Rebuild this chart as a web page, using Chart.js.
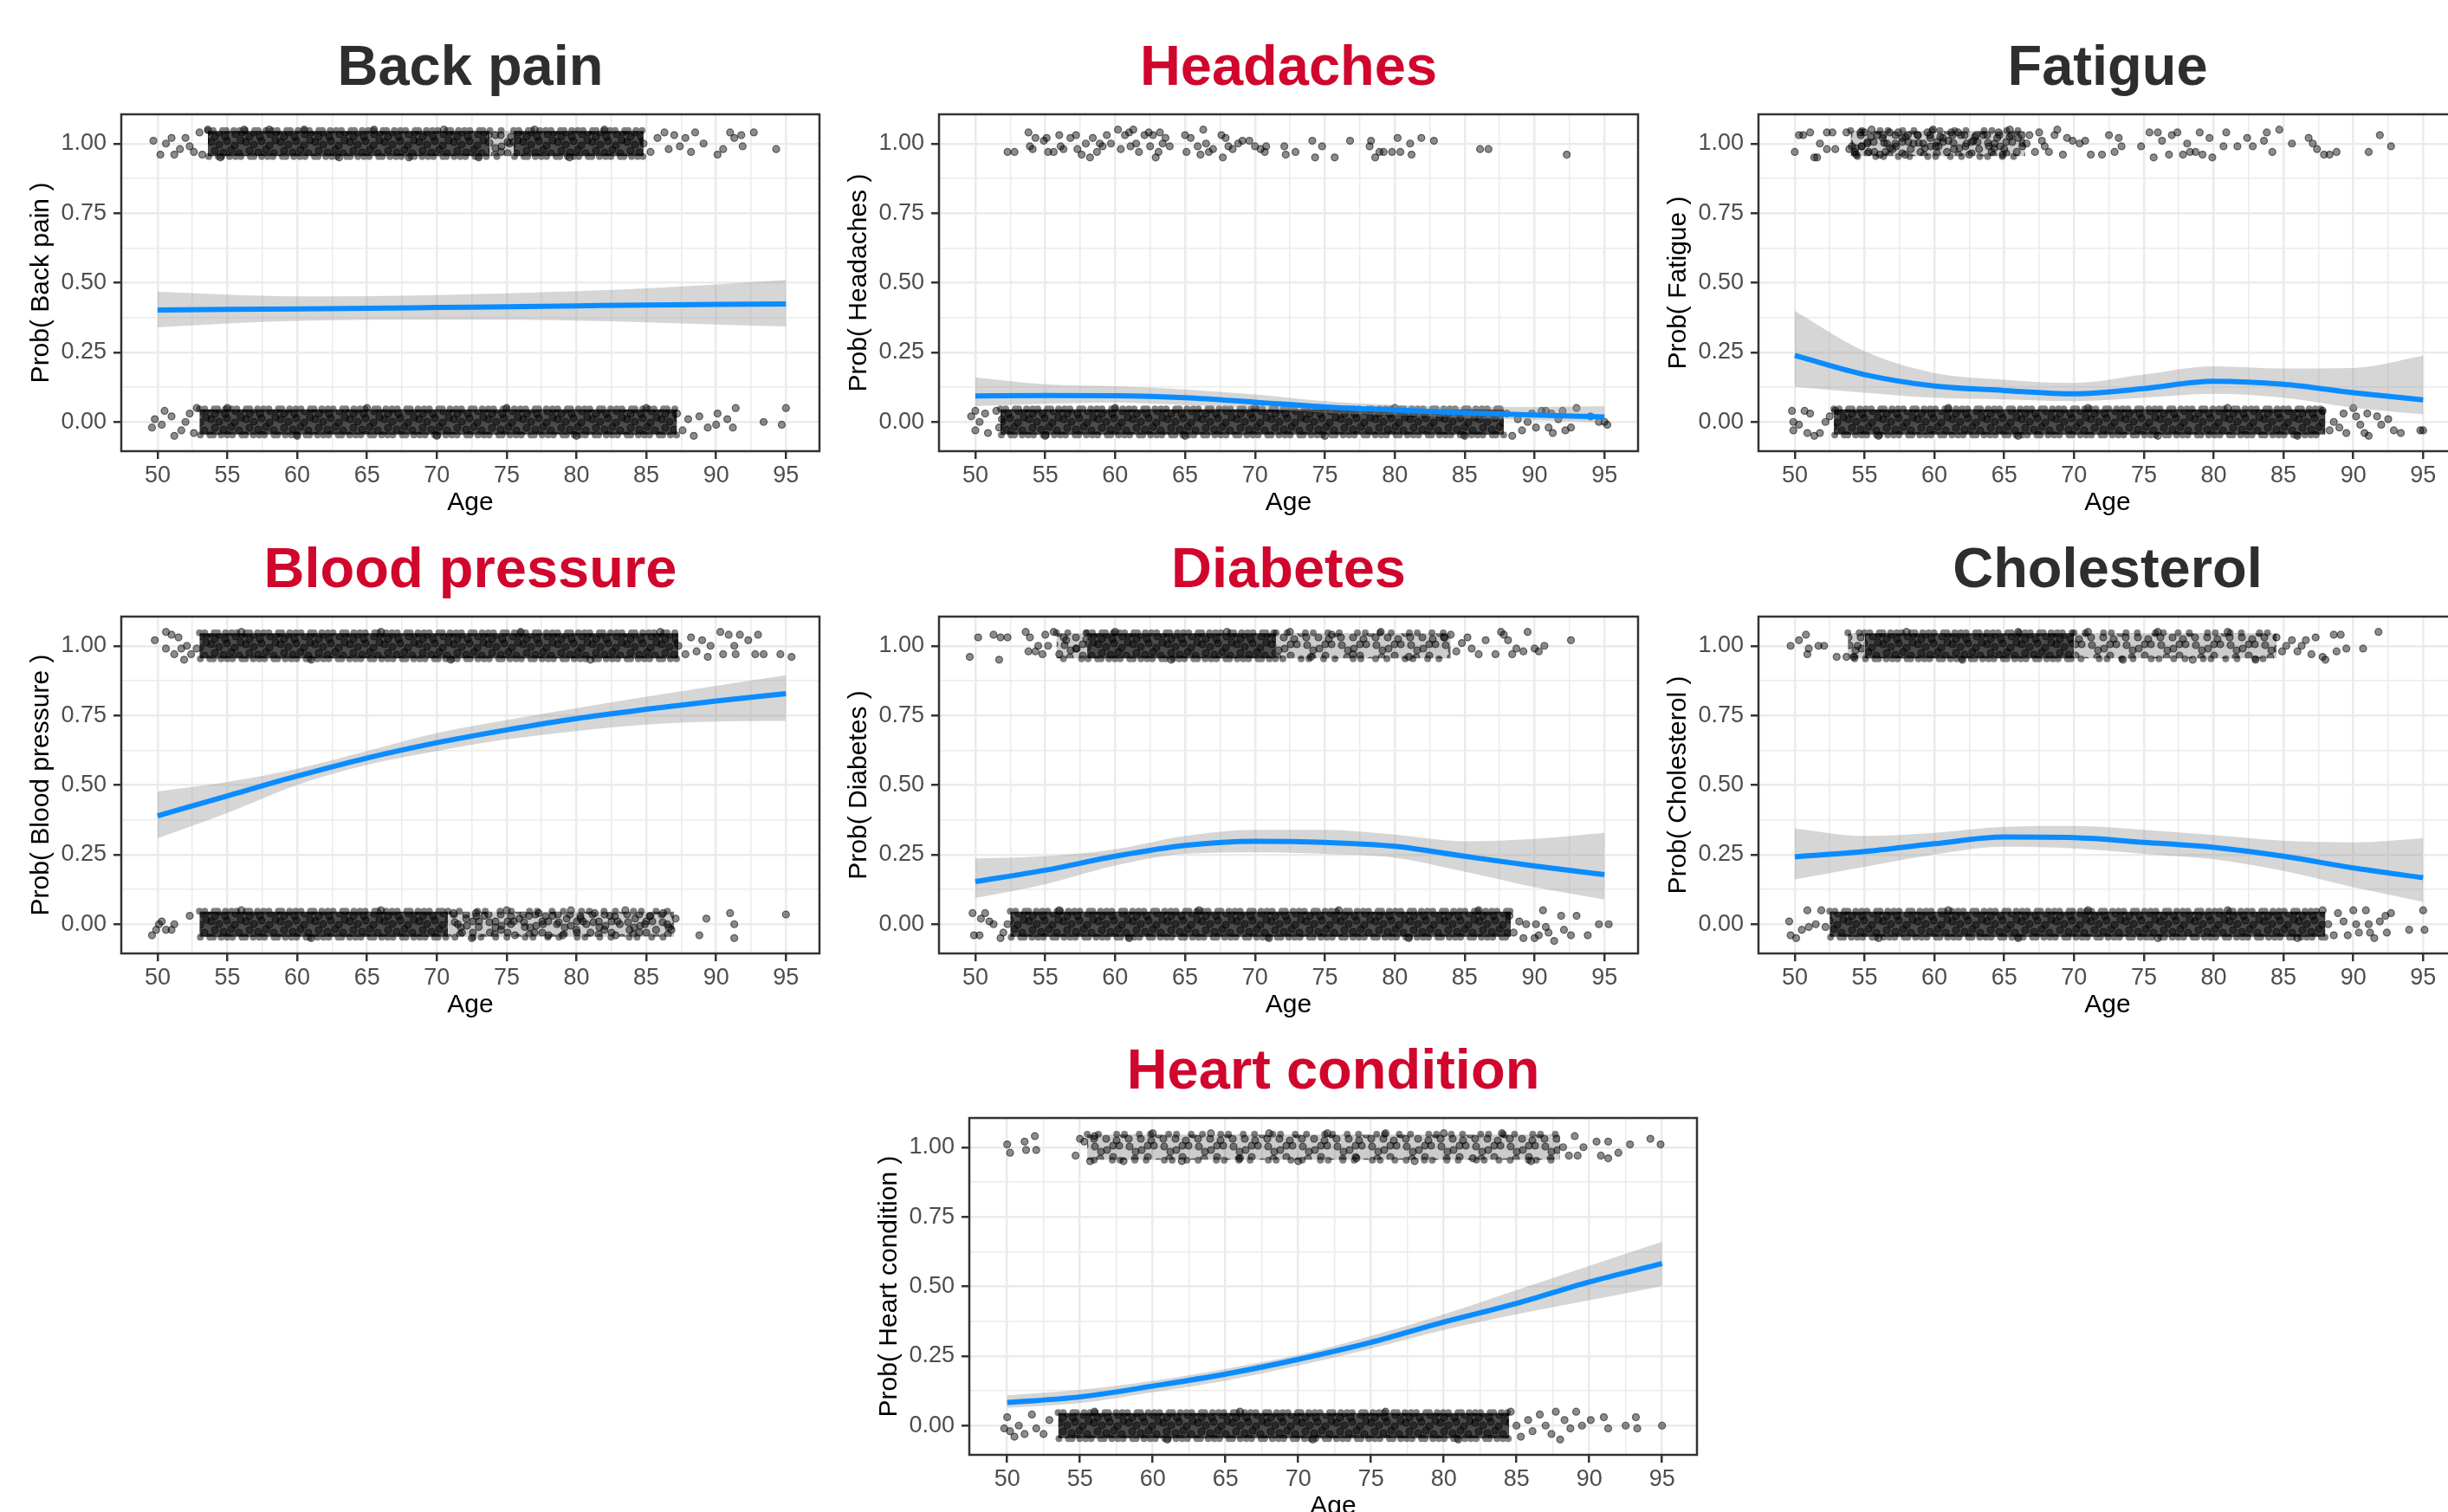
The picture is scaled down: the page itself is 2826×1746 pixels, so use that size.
<!DOCTYPE html>
<html>
<head>
<meta charset="utf-8">
<script src="https://cdn.jsdelivr.net/npm/chart.js@4.4.1/dist/chart.umd.min.js"></script>
<style>
  body { margin: 0; width: 2826px; height: 1746px; overflow: hidden; background: #fff; position: relative; }
  canvas { position: absolute; }
</style>
</head>
<body>
<canvas id="backPain"></canvas>
<canvas id="headaches"></canvas>
<canvas id="fatigue"></canvas>
<canvas id="bloodPressure"></canvas>
<canvas id="diabetes"></canvas>
<canvas id="cholesterol"></canvas>
<canvas id="heart"></canvas>
<script>
// axis breaks
const xTickValues = [50, 55, 60, 65, 70, 75, 80, 85, 90, 95];
const xTickLabels = ['50', '55', '60', '65', '70', '75', '80', '85', '90', '95'];
const xMinorTicks = [52.5, 57.5, 62.5, 67.5, 72.5, 77.5, 82.5, 87.5, 92.5];
const yTickValues = [0, 0.25, 0.5, 0.75, 1];
const yTickLabels = ['0.00', '0.25', '0.50', '0.75', '1.00'];
const yMinorTicks = [0.125, 0.375, 0.625, 0.875];

// ages at which the fitted curves were read
const fitAges = [50, 55, 60, 65, 70, 75, 80, 85, 90, 95];

// ---- Back pain ----
const backPainFit   = [0.402, 0.404, 0.406, 0.408, 0.411, 0.414, 0.417, 0.420, 0.422, 0.424];
const backPainLower = [0.340, 0.354, 0.363, 0.367, 0.367, 0.367, 0.364, 0.358, 0.350, 0.343];
const backPainUpper = [0.468, 0.457, 0.451, 0.452, 0.456, 0.462, 0.470, 0.480, 0.494, 0.510];
// age spans where the jittered points are too packed to count
const backPainYesDense = [[53.6, 73.8], [75.5, 84.8]];
const backPainYesLight = [[73.8, 75.5]];
const backPainNoDense = [[53.0, 87.2]];
const backPainNoLight = [];
const backPainYes = [[49.7,1.01],[50.2,0.96],[50.6,1.0],[51.0,1.02],[51.2,0.96],[51.6,0.98],[52.0,1.02],[52.3,0.99],[52.6,0.97],[53.0,1.04],[53.2,0.96],[53.6,1.05],[54.5,0.95],[56.2,1.05],[58.0,1.05],[60.5,1.05],[63.0,0.95],[65.5,1.05],[68.0,0.95],[70.5,1.05],[73.0,0.95],[74.2,1.03],[74.6,0.97],[75.2,1.0],[77.0,1.05],[79.5,0.95],[82.0,1.05],[84.8,1.0],[85.3,0.97],[85.8,1.02],[86.3,1.04],[86.6,0.98],[87.0,1.03],[87.4,0.99],[87.8,1.02],[88.2,0.97],[88.5,1.04],[89.1,1.0],[90.1,0.96],[90.5,0.98],[91.0,1.04],[91.3,1.02],[91.8,1.03],[91.9,0.99],[92.7,1.04],[94.3,0.98]];
const backPainNo = [[49.6,-0.02],[49.8,0.01],[50.3,-0.01],[50.5,0.04],[51.0,0.02],[51.2,-0.05],[51.7,-0.03],[52.0,0.0],[52.3,0.03],[52.6,-0.04],[52.8,0.05],[55.0,0.05],[60.0,-0.05],[65.0,0.05],[70.0,-0.05],[75.0,0.05],[80.0,-0.05],[85.0,0.05],[87.2,0.03],[87.6,-0.03],[88.0,0.01],[88.4,-0.05],[88.8,0.02],[89.4,-0.02],[90.0,-0.01],[90.1,0.03],[90.8,0.01],[91.2,-0.02],[91.4,0.05],[93.4,0.0],[94.7,-0.01],[95.0,0.05]];

// ---- Headaches ----
const headachesFit   = [0.093, 0.095, 0.094, 0.087, 0.071, 0.054, 0.043, 0.033, 0.025, 0.018];
const headachesLower = [0.057, 0.065, 0.069, 0.061, 0.049, 0.033, 0.025, 0.015, 0.006, -0.002];
const headachesUpper = [0.160, 0.135, 0.128, 0.117, 0.099, 0.075, 0.061, 0.054, 0.054, 0.057];
const headachesYesDense = [];
const headachesYesLight = [];
const headachesNoDense = [[51.8, 87.8]];
const headachesNoLight = [];
const headachesYes = [[52.3,0.97],[52.8,0.97],[53.8,1.04],[53.9,0.99],[54.1,0.98],[54.3,1.02],[54.9,1.01],[55.1,1.02],[55.2,0.97],[55.6,0.97],[56.0,1.03],[56.1,0.99],[56.3,0.98],[56.8,1.02],[57.2,1.03],[57.3,0.98],[57.6,0.96],[57.9,1.0],[58.2,0.95],[58.4,1.02],[58.7,0.97],[58.9,1.0],[59.1,0.99],[59.4,1.03],[59.7,1.0],[60.2,1.05],[60.4,0.98],[60.7,1.03],[61.0,1.04],[61.1,0.99],[61.3,1.05],[61.5,1.0],[61.7,0.97],[62.1,1.03],[62.4,1.04],[62.5,0.99],[62.7,1.03],[62.9,0.95],[63.1,0.97],[63.2,1.04],[63.4,1.0],[63.6,1.02],[63.9,0.99],[65.0,1.03],[65.1,0.97],[65.4,1.02],[65.9,0.99],[66.1,0.96],[66.3,1.05],[66.5,1.0],[66.7,0.97],[67.0,0.98],[67.6,1.03],[67.7,0.95],[67.9,1.02],[68.1,0.99],[68.4,0.98],[68.8,1.0],[69.1,1.01],[69.6,1.01],[70.0,0.99],[70.4,0.98],[70.7,0.97],[70.8,0.99],[72.1,0.99],[72.2,0.96],[72.9,0.97],[74.1,1.01],[74.3,0.95],[74.8,0.99],[75.7,0.95],[76.8,1.01],[78.2,0.99],[78.3,1.01],[78.6,0.95],[78.9,0.97],[79.2,0.97],[79.8,0.97],[80.2,1.02],[80.4,0.97],[81.1,1.0],[81.2,0.96],[81.9,1.02],[82.8,1.01],[86.1,0.98],[86.7,0.98],[92.3,0.96]];
const headachesNo = [[49.7,0.02],[50.0,0.04],[50.0,-0.03],[50.3,0.0],[50.7,0.03],[50.9,-0.04],[51.5,0.04],[51.7,-0.02],[51.9,0.01],[55.0,-0.05],[60.0,0.05],[65.0,-0.05],[70.0,0.05],[75.0,-0.05],[80.0,0.05],[85.0,-0.05],[88.0,0.03],[88.4,-0.05],[88.8,0.01],[89.1,-0.03],[89.5,0.0],[89.8,0.03],[90.1,-0.02],[90.5,0.04],[90.8,0.04],[91.0,-0.02],[91.2,0.03],[91.3,-0.04],[91.7,0.01],[92.0,0.04],[92.2,-0.03],[92.6,-0.02],[93.0,0.05],[94.0,0.02],[94.6,0.0],[95.0,0.0],[95.2,-0.01]];

// ---- Fatigue ----
const fatigueFit   = [0.239, 0.170, 0.129, 0.113, 0.101, 0.120, 0.146, 0.135, 0.105, 0.079];
const fatigueLower = [0.126, 0.105, 0.087, 0.081, 0.075, 0.087, 0.101, 0.087, 0.051, 0.027];
const fatigueUpper = [0.399, 0.254, 0.176, 0.152, 0.140, 0.170, 0.200, 0.192, 0.194, 0.238];
const fatigueYesDense = [];
const fatigueYesLight = [[54.0, 66.5]];
const fatigueNoDense = [[52.8, 88.0]];
const fatigueNoLight = [];
const fatigueYes = [[50.0,0.97],[50.3,1.03],[50.6,1.03],[51.1,1.04],[51.4,0.95],[51.6,0.95],[51.8,1.0],[52.3,0.98],[52.3,1.04],[52.7,1.04],[52.9,0.98],[53.7,1.04],[53.9,0.98],[54.1,0.99],[54.3,0.97],[54.4,0.96],[54.7,1.04],[54.8,0.99],[55.0,1.04],[55.2,1.0],[55.3,0.97],[55.5,1.05],[55.7,0.97],[55.9,1.03],[56.1,0.96],[56.3,1.02],[56.5,0.97],[56.6,1.0],[56.8,1.04],[57.0,0.98],[57.2,1.0],[57.4,1.04],[57.7,1.02],[57.9,0.96],[58.1,1.03],[58.3,0.98],[58.5,1.0],[58.8,1.03],[59.0,0.97],[59.2,1.0],[59.5,1.04],[59.7,1.02],[59.9,1.05],[60.1,0.99],[60.3,0.99],[60.6,1.02],[60.9,0.97],[61.0,1.01],[61.2,1.04],[61.4,0.98],[61.7,1.04],[61.9,1.03],[62.3,1.0],[62.5,0.96],[62.8,1.01],[63.0,1.03],[63.2,0.98],[63.5,1.03],[63.9,0.99],[64.1,0.97],[64.3,1.0],[64.5,1.02],[64.6,1.04],[64.9,0.96],[65.0,0.98],[65.4,1.05],[65.5,1.03],[65.9,0.97],[66.0,1.02],[66.3,0.99],[66.6,1.0],[66.8,1.03],[67.2,0.97],[67.5,1.04],[67.7,1.01],[67.9,0.99],[68.2,0.97],[68.6,1.03],[68.8,1.05],[69.2,0.96],[69.5,1.02],[69.9,1.01],[70.4,1.0],[70.8,1.01],[71.2,0.96],[72.0,0.96],[72.5,1.03],[72.9,0.97],[73.2,1.02],[73.4,0.99],[74.8,0.99],[75.4,1.04],[75.7,0.95],[76.0,1.04],[76.3,1.01],[76.8,0.96],[77.0,1.03],[77.4,1.04],[77.8,0.96],[78.1,1.0],[78.3,0.97],[78.7,0.97],[79.0,1.04],[79.2,0.96],[79.7,1.02],[79.9,0.95],[80.7,0.99],[80.9,1.04],[81.7,0.99],[82.4,1.02],[82.8,0.99],[83.6,1.01],[83.8,1.04],[84.2,0.97],[84.7,1.05],[85.6,1.0],[86.8,1.02],[87.1,1.0],[87.4,0.98],[87.9,0.96],[88.3,0.96],[88.8,0.97],[91.1,0.97],[91.9,1.03],[92.7,0.99]];
const fatigueNo = [[49.8,0.04],[49.9,0.0],[49.9,-0.03],[50.3,-0.01],[50.7,0.04],[50.9,-0.04],[51.1,0.03],[51.4,-0.05],[51.8,-0.04],[52.2,0.0],[52.5,0.02],[52.9,0.04],[56.0,-0.05],[61.0,0.05],[66.0,-0.05],[71.0,0.05],[76.0,-0.05],[81.0,0.05],[86.0,-0.05],[87.8,0.04],[88.3,-0.03],[88.6,0.0],[89.0,-0.02],[89.3,0.03],[89.5,-0.04],[90.0,0.05],[90.2,0.02],[90.5,-0.01],[90.8,-0.04],[91.0,0.03],[91.1,-0.05],[91.7,0.02],[92.0,-0.01],[92.5,0.01],[92.9,-0.03],[93.4,-0.04],[94.8,-0.03],[95.0,-0.03]];

// ---- Blood pressure ----
const bloodPressureFit   = [0.389, 0.461, 0.532, 0.597, 0.652, 0.698, 0.739, 0.772, 0.802, 0.828];
const bloodPressureLower = [0.309, 0.400, 0.500, 0.572, 0.622, 0.664, 0.694, 0.717, 0.728, 0.730];
const bloodPressureUpper = [0.477, 0.511, 0.558, 0.622, 0.687, 0.733, 0.776, 0.817, 0.856, 0.894];
const bloodPressureYesDense = [[53.0, 87.3]];
const bloodPressureYesLight = [];
const bloodPressureNoDense = [[53.0, 70.8]];
const bloodPressureNoLight = [[70.8, 87.0]];
const bloodPressureYes = [[49.8,1.02],[50.6,1.05],[50.6,0.99],[51.0,1.04],[51.2,0.97],[51.5,1.03],[51.7,0.99],[51.9,0.95],[52.1,1.0],[52.4,0.97],[52.8,0.99],[56.0,1.05],[61.0,0.95],[66.0,1.05],[71.0,0.95],[76.0,1.05],[81.0,0.95],[86.0,1.05],[87.3,1.0],[87.8,0.97],[88.2,1.03],[88.6,0.98],[89.0,1.02],[89.4,0.96],[89.6,1.0],[90.3,1.05],[90.5,0.97],[90.9,1.04],[91.3,1.0],[91.4,0.97],[91.7,1.04],[92.3,1.02],[92.8,0.97],[93.0,1.04],[93.4,0.97],[94.6,0.97],[95.4,0.96]];
const bloodPressureNo = [[49.6,-0.04],[49.9,-0.02],[50.1,0.0],[50.3,0.01],[50.6,-0.02],[51.0,-0.02],[51.2,0.0],[52.3,0.03],[56.0,0.05],[61.0,-0.05],[66.0,0.05],[71.2,0.04],[71.5,0.0],[71.8,-0.03],[72.1,0.02],[72.5,-0.05],[72.8,0.04],[73.0,-0.01],[73.4,0.03],[73.8,-0.03],[74.2,0.01],[74.6,-0.02],[75.0,0.05],[75.3,0.0],[75.6,-0.04],[75.9,0.02],[76.3,-0.01],[76.6,0.03],[77.0,-0.03],[77.3,0.04],[77.6,0.0],[78.0,-0.04],[78.3,0.03],[78.6,0.0],[79.0,-0.04],[79.3,0.02],[79.6,0.05],[80.0,-0.02],[80.3,0.02],[80.7,0.0],[81.0,-0.03],[81.3,0.04],[81.6,0.01],[82.0,-0.02],[82.4,0.03],[82.8,-0.04],[83.1,0.0],[83.5,0.05],[83.8,-0.02],[84.2,0.02],[84.5,-0.03],[84.9,0.0],[85.3,0.03],[85.7,-0.02],[86.2,0.04],[86.5,0.0],[86.8,-0.02],[87.1,0.02],[88.8,-0.04],[89.3,0.02],[91.0,0.04],[91.3,0.0],[91.3,-0.05],[95.0,0.035]];

// ---- Diabetes ----
const diabetesFit   = [0.153, 0.194, 0.244, 0.283, 0.298, 0.294, 0.280, 0.244, 0.209, 0.178];
const diabetesLower = [0.094, 0.144, 0.211, 0.253, 0.258, 0.253, 0.239, 0.189, 0.133, 0.089];
const diabetesUpper = [0.236, 0.244, 0.269, 0.317, 0.339, 0.339, 0.322, 0.298, 0.306, 0.328];
const diabetesYesDense = [[58.0, 71.5]];
const diabetesYesLight = [[55.8, 58.0], [71.5, 84.0]];
const diabetesNoDense = [[52.5, 88.3]];
const diabetesNoLight = [];
const diabetesYes = [[49.6,0.96],[50.2,1.03],[51.3,1.04],[51.7,0.95],[51.8,1.03],[52.3,1.03],[53.6,1.05],[53.8,0.98],[53.9,1.03],[54.3,0.98],[54.5,1.0],[54.8,0.97],[55.0,1.04],[55.2,1.0],[55.6,1.05],[56.0,0.97],[56.5,1.02],[57.2,0.99],[60.0,1.05],[64.0,0.95],[68.0,1.05],[72.5,1.05],[74.0,0.96],[75.5,1.04],[77.0,0.97],[79.0,1.05],[81.0,0.96],[83.5,1.03],[84.0,1.04],[84.4,0.98],[84.8,1.01],[85.2,1.03],[85.5,0.99],[86.0,0.97],[86.5,1.02],[87.2,0.97],[87.6,1.05],[87.8,1.04],[88.1,1.02],[88.4,0.97],[88.7,0.99],[89.2,0.98],[89.5,1.05],[90.0,0.99],[90.3,0.98],[90.7,1.0],[92.6,1.02]];
const diabetesNo = [[49.8,0.04],[49.9,-0.04],[50.3,-0.04],[50.4,0.02],[50.7,0.04],[51.0,0.01],[51.3,0.0],[51.8,-0.05],[52.0,-0.03],[52.3,0.0],[56.0,0.05],[61.0,-0.05],[66.0,0.05],[71.0,-0.05],[76.0,0.05],[81.0,-0.05],[86.0,0.05],[88.2,0.03],[88.5,-0.03],[88.9,0.01],[89.2,-0.05],[89.4,0.0],[90.0,-0.05],[90.1,0.0],[90.3,-0.04],[90.6,0.05],[90.8,-0.01],[91.0,-0.03],[91.4,-0.06],[91.9,0.03],[92.1,-0.02],[92.6,-0.04],[93.0,0.03],[93.8,-0.04],[94.6,0.0],[95.3,0.0]];

// ---- Cholesterol ----
const cholesterolFit   = [0.242, 0.261, 0.289, 0.313, 0.311, 0.294, 0.276, 0.244, 0.202, 0.167];
const cholesterolLower = [0.161, 0.206, 0.250, 0.278, 0.272, 0.253, 0.233, 0.191, 0.133, 0.080];
const cholesterolUpper = [0.344, 0.317, 0.328, 0.350, 0.353, 0.339, 0.320, 0.300, 0.294, 0.309];
const cholesterolYesDense = [[55.0, 70.0]];
const cholesterolYesLight = [[53.8, 55.0], [70.0, 84.5]];
const cholesterolNoDense = [[52.5, 88.0]];
const cholesterolNoLight = [];
const cholesterolYes = [[49.7,1.0],[50.3,1.02],[50.8,1.04],[50.9,0.97],[51.0,0.99],[51.7,1.0],[52.1,1.0],[53.0,0.96],[53.7,0.96],[54.2,0.96],[54.5,1.0],[58.0,1.05],[62.0,0.95],[66.0,1.05],[71.0,1.05],[73.5,0.95],[76.0,1.05],[78.5,0.95],[81.0,1.05],[83.0,0.95],[84.5,1.03],[84.9,0.98],[85.2,1.0],[85.6,1.02],[86.0,0.98],[86.3,1.0],[86.6,1.02],[87.0,0.97],[87.3,1.03],[87.8,0.96],[88.0,0.95],[88.6,1.04],[88.8,0.98],[89.1,1.04],[89.5,0.99],[90.7,0.99],[91.8,1.05]];
const cholesterolNo = [[49.6,0.01],[49.7,-0.04],[50.1,-0.05],[50.5,-0.02],[50.9,0.05],[51.0,-0.01],[51.5,0.0],[51.9,0.05],[52.2,-0.01],[56.0,-0.05],[61.0,0.05],[66.0,-0.05],[71.0,0.05],[76.0,-0.05],[81.0,0.05],[86.0,-0.05],[87.8,0.05],[88.2,0.0],[88.6,-0.04],[88.9,0.04],[89.3,0.01],[89.6,-0.04],[90.0,0.05],[90.2,0.0],[90.4,-0.03],[90.9,0.05],[91.1,0.0],[91.2,-0.03],[91.5,-0.05],[91.9,0.01],[92.3,0.03],[92.4,-0.03],[92.7,0.04],[94.0,-0.02],[95.0,0.05],[95.1,-0.02]];

// ---- Heart condition ----
const heartFit   = [0.083, 0.103, 0.142, 0.185, 0.238, 0.299, 0.372, 0.439, 0.516, 0.582];
const heartLower = [0.064, 0.081, 0.120, 0.161, 0.215, 0.277, 0.344, 0.400, 0.450, 0.501];
const heartUpper = [0.109, 0.128, 0.161, 0.204, 0.254, 0.322, 0.400, 0.487, 0.574, 0.660];
const heartYesDense = [];
const heartYesLight = [[55.5, 88.0]];
const heartNoDense = [[53.5, 84.5]];
const heartNoLight = [];
const heartYes = [[50.0,1.01],[50.2,0.98],[51.2,1.02],[51.3,0.99],[51.9,1.04],[52.0,0.99],[54.7,0.97],[55.0,1.03],[55.3,1.02],[55.7,0.95],[56.0,1.04],[58.0,0.95],[60.0,1.05],[62.0,0.95],[64.0,1.05],[66.0,0.96],[68.0,1.05],[70.0,0.95],[72.0,1.05],[74.0,0.96],[76.0,1.05],[78.0,0.95],[80.0,1.05],[82.0,0.96],[84.0,1.05],[86.0,0.95],[88.2,1.0],[88.6,0.97],[89.0,1.04],[89.2,0.97],[89.6,1.0],[90.5,1.02],[90.8,0.97],[91.3,0.96],[91.3,1.02],[92.0,0.98],[92.8,1.01],[94.2,1.03],[94.9,1.01]];
const heartNo = [[49.8,-0.01],[50.0,0.03],[50.2,-0.02],[50.5,-0.04],[50.8,0.0],[51.2,-0.03],[51.7,0.04],[52.0,-0.01],[52.5,-0.03],[52.9,0.02],[56.0,0.05],[61.0,-0.05],[66.0,0.05],[71.0,-0.05],[76.0,0.05],[81.0,-0.05],[84.6,0.05],[85.0,0.0],[85.3,-0.04],[85.8,0.02],[86.1,-0.02],[86.6,0.04],[87.0,0.0],[87.4,-0.03],[87.7,0.05],[88.0,-0.05],[88.3,0.02],[88.7,-0.01],[89.1,0.05],[89.5,0.0],[90.1,0.02],[91.0,0.03],[91.3,-0.01],[92.5,0.0],[93.2,0.03],[93.3,-0.01],[95.0,0.0]];

Chart.defaults.font.family = "'Liberation Sans', Arial, Helvetica, sans-serif";

const TITLE_DARK = '#2e2e2e';
const TITLE_RED = '#d0062d';
const Y_AXIS_W = 140;
const TOP_H = 132;
const X_AXIS_H = 90;
const PLOT_H = 389;

// speckled fill used where overplotted points merge into one dark cloud
function speckle(bg, spots) {
  const t = document.createElement('canvas');
  t.width = 40; t.height = 32;
  const c = t.getContext('2d');
  if (bg) { c.fillStyle = bg; c.fillRect(0, 0, 40, 32); }
  c.fillStyle = 'rgba(0,0,0,0.45)';
  c.strokeStyle = 'rgba(0,0,0,0.55)';
  c.lineWidth = 1.2;
  spots.forEach(([sx, sy]) => {
    [-40, 0, 40].forEach(dx => [-32, 0, 32].forEach(dy => {
      c.beginPath();
      c.arc(sx + dx, sy + dy, 4, 0, Math.PI * 2);
      c.fill();
      c.stroke();
    }));
  });
  return c.createPattern(t, 'repeat');
}
const DENSE = speckle('rgba(0,0,0,0.7)', [[4,4],[13,7],[22,3],[31,8],[38,2],[8,14],[18,16],[27,13],[36,17],[3,23],[13,25],[23,22],[32,27],[39,25],[8,30],[20,30]]);
const LIGHT = speckle('rgba(0,0,0,0.2)', [[5,5],[19,9],[33,4],[11,19],[26,17],[38,23],[4,28],[18,28],[30,30],[26,4],[12,11]]);
const DENSE_EDGE = [0.01, 6, 0.01, 11, 0.01, 4, 0.01, 9, 0.01, 7];
const LIGHT_EDGE = [0.01, 13, 0.01, 21, 0.01, 9, 0.01, 17];

const panels = [
  { id: 'backPain', title: 'Back pain', red: false, left: 140, top: 132, w: 806,
    fit: backPainFit, lower: backPainLower, upper: backPainUpper, yes: backPainYes, no: backPainNo,
    yesDense: backPainYesDense, yesLight: backPainYesLight, noDense: backPainNoDense, noLight: backPainNoLight },
  { id: 'headaches', title: 'Headaches', red: true, left: 1084, top: 132, w: 807,
    fit: headachesFit, lower: headachesLower, upper: headachesUpper, yes: headachesYes, no: headachesNo,
    yesDense: headachesYesDense, yesLight: headachesYesLight, noDense: headachesNoDense, noLight: headachesNoLight },
  { id: 'fatigue', title: 'Fatigue', red: false, left: 2030, top: 132, w: 806,
    fit: fatigueFit, lower: fatigueLower, upper: fatigueUpper, yes: fatigueYes, no: fatigueNo,
    yesDense: fatigueYesDense, yesLight: fatigueYesLight, noDense: fatigueNoDense, noLight: fatigueNoLight },
  { id: 'bloodPressure', title: 'Blood pressure', red: true, left: 140, top: 712, w: 806,
    fit: bloodPressureFit, lower: bloodPressureLower, upper: bloodPressureUpper, yes: bloodPressureYes, no: bloodPressureNo,
    yesDense: bloodPressureYesDense, yesLight: bloodPressureYesLight, noDense: bloodPressureNoDense, noLight: bloodPressureNoLight },
  { id: 'diabetes', title: 'Diabetes', red: true, left: 1084, top: 712, w: 807,
    fit: diabetesFit, lower: diabetesLower, upper: diabetesUpper, yes: diabetesYes, no: diabetesNo,
    yesDense: diabetesYesDense, yesLight: diabetesYesLight, noDense: diabetesNoDense, noLight: diabetesNoLight },
  { id: 'cholesterol', title: 'Cholesterol', red: false, left: 2030, top: 712, w: 806,
    fit: cholesterolFit, lower: cholesterolLower, upper: cholesterolUpper, yes: cholesterolYes, no: cholesterolNo,
    yesDense: cholesterolYesDense, yesLight: cholesterolYesLight, noDense: cholesterolNoDense, noLight: cholesterolNoLight },
  { id: 'heart', title: 'Heart condition', red: true, left: 1119, top: 1291, w: 840,
    fit: heartFit, lower: heartLower, upper: heartUpper, yes: heartYes, no: heartNo,
    yesDense: heartYesDense, yesLight: heartYesLight, noDense: heartNoDense, noLight: heartNoLight }
];

const panelBorder = {
  id: 'panelBorder',
  afterDatasetsDraw(chart) {
    const { ctx, chartArea: a } = chart;
    ctx.save();
    ctx.strokeStyle = '#333333';
    ctx.lineWidth = 2.5;
    ctx.strokeRect(a.left, a.top, a.width, a.height);
    ctx.restore();
  }
};

function curve(values) {
  return fitAges.map((x, i) => ({ x: x, y: values[i] }));
}

// a packed span: speckled body plus a beaded rim on its top and bottom
function coreSets(spans, centre, shade, dash) {
  const out = [];
  spans.forEach(s => {
    out.push({
      type: 'line',
      data: [{ x: s[0], y: centre + 0.045 }, { x: s[1], y: centre + 0.045 }],
      fill: { value: centre - 0.045 },
      backgroundColor: shade,
      borderColor: 'rgba(0,0,0,0)', borderWidth: 0, pointRadius: 0, order: 3
    });
    [0.047, -0.047].forEach((off, k) => out.push({
      type: 'line',
      data: [{ x: s[0], y: centre + off }, { x: s[1], y: centre + off }],
      fill: false,
      borderColor: 'rgba(0,0,0,0.5)', borderWidth: 8, borderCapStyle: 'round',
      borderDash: dash, borderDashOffset: k * 5, pointRadius: 0, order: 3
    }));
  });
  return out;
}

function pointSet(list) {
  return {
    type: 'scatter',
    data: list.map(p => ({ x: p[0], y: p[1] })),
    pointRadius: 4,
    backgroundColor: 'rgba(0,0,0,0.45)',
    borderColor: 'rgba(0,0,0,0.55)',
    borderWidth: 1.2,
    order: 2
  };
}

function isMajor(values, ctx) {
  return ctx.tick && values.includes(ctx.tick.value);
}

function drawPanel(p) {
  const canvas = document.getElementById(p.id);
  canvas.width = Y_AXIS_W + p.w + 10;
  canvas.height = TOP_H + PLOT_H + X_AXIS_H;
  canvas.style.left = (p.left - Y_AXIS_W) + 'px';
  canvas.style.top = (p.top - TOP_H) + 'px';

  const datasets = [
    { type: 'line', data: curve(p.fit), borderColor: '#0a8cff', borderWidth: 6, pointRadius: 0,
      cubicInterpolationMode: 'monotone', fill: false, order: 0 },
    { type: 'line', data: curve(p.upper), borderColor: 'rgba(0,0,0,0)', borderWidth: 0, pointRadius: 0,
      cubicInterpolationMode: 'monotone', fill: '+1', backgroundColor: 'rgba(153,153,153,0.4)', order: 1 },
    { type: 'line', data: curve(p.lower), borderColor: 'rgba(0,0,0,0)', borderWidth: 0, pointRadius: 0,
      cubicInterpolationMode: 'monotone', fill: false, order: 1 },
    pointSet(p.yes),
    pointSet(p.no),
    ...coreSets(p.yesDense, 1, DENSE, DENSE_EDGE),
    ...coreSets(p.yesLight, 1, LIGHT, LIGHT_EDGE),
    ...coreSets(p.noDense, 0, DENSE, DENSE_EDGE),
    ...coreSets(p.noLight, 0, LIGHT, LIGHT_EDGE)
  ];

  new Chart(canvas, {
    type: 'scatter',
    data: { datasets: datasets },
    plugins: [panelBorder],
    options: {
      responsive: false,
      animation: false,
      devicePixelRatio: 1,
      layout: { padding: { left: 0, right: 10, top: 0, bottom: 0 } },
      plugins: {
        legend: { display: false },
        tooltip: { enabled: false },
        title: {
          display: true, text: p.title, fullSize: false,
          color: p.red ? TITLE_RED : TITLE_DARK,
          font: { size: 65, weight: 'bold' },
          padding: { top: 41, bottom: 13 }
        }
      },
      scales: {
        x: {
          type: 'linear', min: 47.4, max: 97.4,
          afterBuildTicks: s => { s.ticks = xTickValues.concat(xMinorTicks).sort((a, b) => a - b).map(v => ({ value: v })); },
          afterFit: s => { s.height = X_AXIS_H; },
          ticks: {
            autoSkip: false, maxRotation: 0, padding: 3, color: '#4d4d4d', font: { size: 27 },
            callback: v => { const i = xTickValues.indexOf(v); return i >= 0 ? xTickLabels[i] : ''; }
          },
          grid: {
            color: '#ebebeb',
            lineWidth: c => isMajor(xTickValues, c) ? 2.5 : 1.5,
            tickLength: 9, tickWidth: 2.5,
            tickColor: c => isMajor(xTickValues, c) ? '#333333' : 'rgba(0,0,0,0)'
          },
          border: { display: false },
          title: { display: true, text: 'Age', color: '#000', font: { size: 30 }, padding: { top: 0, bottom: 12 } }
        },
        y: {
          type: 'linear', min: -0.105, max: 1.105,
          afterBuildTicks: s => { s.ticks = yTickValues.concat(yMinorTicks).sort((a, b) => a - b).map(v => ({ value: v })); },
          afterFit: s => { s.width = Y_AXIS_W; },
          ticks: {
            padding: 8, color: '#4d4d4d', font: { size: 27 },
            callback: v => { const i = yTickValues.indexOf(v); return i >= 0 ? yTickLabels[i] : ''; }
          },
          grid: {
            color: '#ebebeb',
            lineWidth: c => isMajor(yTickValues, c) ? 2.5 : 1.5,
            tickLength: 9, tickWidth: 2.5,
            tickColor: c => isMajor(yTickValues, c) ? '#333333' : 'rgba(0,0,0,0)'
          },
          border: { display: false },
          title: { display: true, text: 'Prob( ' + p.title + ' )', color: '#000', font: { size: 30 }, padding: { top: 30, bottom: 0 } }
        }
      }
    }
  });
}

panels.forEach(drawPanel);
</script>
</body>
</html>
